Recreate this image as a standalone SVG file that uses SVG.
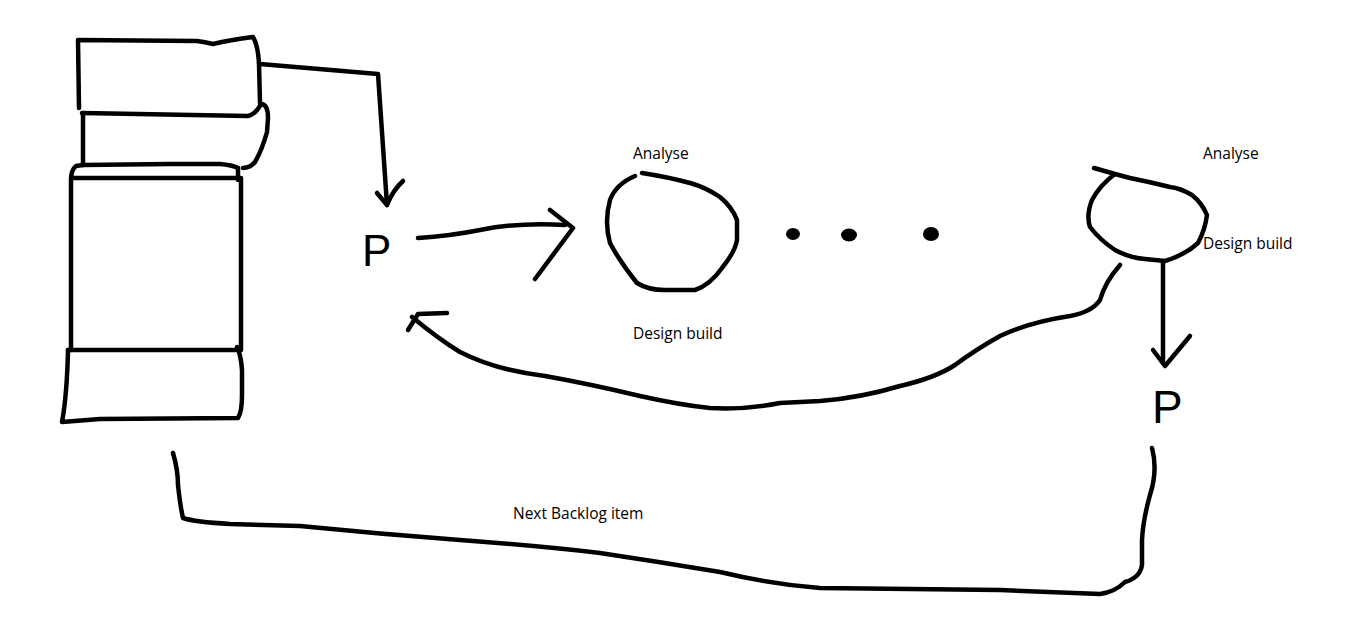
<svg xmlns="http://www.w3.org/2000/svg" width="1347" height="627" viewBox="0 0 1347 627">
<style>
.ink{fill:none;stroke:#000;stroke-width:4.5;stroke-linecap:round;stroke-linejoin:round}
.lbl{font-family:"Open Sans","Liberation Sans",sans-serif;font-size:15.5px;fill:#000}
.hand{font-family:"Liberation Sans",sans-serif;fill:#000}
.dot{fill:#000}
</style>
<rect width="1347" height="627" fill="#fff"/>
<g id="backlog-stack">
<path class="ink" d="M79,108 L78,40 L197,41 Q205,42 213,44 Q230,40 253,37 Q258,45 259,64 L260,103"/>
<path class="ink" d="M82,113 L248,116 Q256,114 261,104 Q268,104 268,118 L267,132 Q262,150 255,162 Q250,168 243,168"/>
<path class="ink" d="M83,113 L83,165"/>
<path class="ink" d="M83,165 L170,164 L220,164 Q232,165 238,168"/>
<path class="ink" d="M83,165 L76,166 Q71,170 71,180 L71,350"/>
<path class="ink" d="M71,178 L241,178 L241,350"/>
<path class="ink" d="M238,168 L238,180"/>
<path class="ink" d="M68,350 L238,350"/>
<path class="ink" d="M68,350 Q67,395 62,422 L100,419 L238,418 Q242,412 242,395 L242,370 Q241,355 237,347"/>
</g>
<g id="p1">
<text class="hand" x="362" y="266" font-size="44">P</text>
</g>
<g id="iteration1">
<path class="ink" d="M635,176 Q616,184 610,200 Q604,222 610,243 Q620,262 637,283 Q648,290 665,290 L695,290 Q710,285 722,268 Q735,252 737,240 L737,220 Q732,207 720,197 Q705,187 690,183 Q668,177 642,173"/>
</g>
<g id="dots">
<ellipse class="dot" cx="793" cy="234" rx="7" ry="6"/>
<ellipse class="dot" cx="849" cy="235" rx="8" ry="6.5"/>
<ellipse class="dot" cx="931" cy="234" rx="8" ry="7"/>
</g>
<g id="iteration2">
<path class="ink" d="M1094,168 L1115,174 Q1100,185 1092,200 Q1086,215 1090,227 Q1100,240 1115,250 Q1130,258 1145,259 L1165,261 Q1185,255 1198,243 Q1205,230 1207,215 Q1202,203 1192,195 Q1180,188 1170,187 Q1150,182 1130,178 L1115,174"/>
</g>
<g id="p2">
<text class="hand" x="1152" y="423" font-size="46">P</text>
</g>
<g id="labels">
<text class="lbl" x="633" y="159">Analyse</text>
<text class="lbl" x="633" y="339">Design build</text>
<text class="lbl" x="1203" y="159">Analyse</text>
<text class="lbl" x="1203" y="249">Design build</text>
<text class="lbl" x="513" y="519">Next Backlog item</text>
</g>
<g id="connectors">
<path class="ink" d="M260,64 L378,74 L387,205"/>
<path class="ink" d="M377,193 L387,205 M403,181 Q393,190 387,205"/>
<path class="ink" d="M418,238 Q450,236 480,230 Q520,222 565,225"/>
<path class="ink" d="M550,210 L573,228 L535,279"/>
<path class="ink" d="M1163,262 L1163,363"/>
<path class="ink" d="M1153,350 L1165,366 L1190,336"/>
<path class="ink" d="M1120,265 Q1105,282 1100,300 Q1092,312 1070,316 Q1030,322 1000,336 Q975,350 955,365 Q935,378 900,386 Q860,398 820,401 L780,403 Q745,410 710,408 Q680,405 640,396 Q590,384 545,376 Q495,370 460,352 Q440,340 412,317"/>
<path class="ink" d="M447,313 L418,314 L408,330"/>
<path class="ink" d="M173,453 Q178,470 178,485 Q180,505 183,518 Q195,522 230,524 L300,526 Q380,534 460,540 Q540,546 600,553 Q660,562 720,572 Q770,584 820,588 L1000,590 L1100,594 Q1115,592 1125,582 Q1140,578 1142,565 L1142,540 Q1143,520 1150,495 Q1158,470 1152,448"/>
</g>
</svg>
